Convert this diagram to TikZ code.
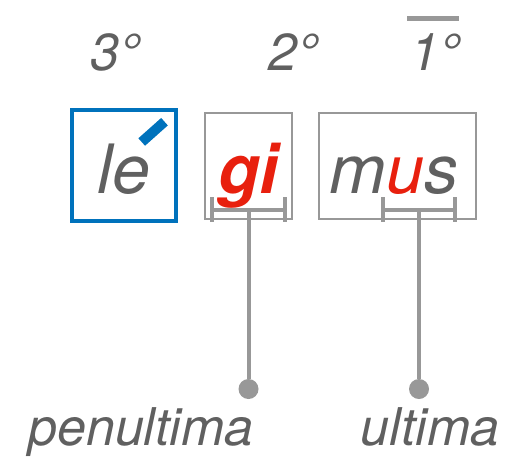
\documentclass[tikz,border=0pt]{standalone}
\usepackage{fontspec}
\setmainfont{TeX Gyre Heros}
\definecolor{grigio}{RGB}{96,96,96}
\definecolor{grigiochiaro}{RGB}{152,152,152}
\definecolor{blu}{RGB}{0,114,188}
\definecolor{rosso}{RGB}{232,32,14}
\begin{document}
\begin{tikzpicture}[x=1pt, y=-1pt,
	every node/.style={text=grigio, inner sep=0pt},
	sillaba/.style={draw=grigiochiaro, line width=2pt, minimum height=106pt},
	tonica/.style={draw=blu, line width=4pt, minimum width=104pt, minimum height=111pt},
	testo/.style={anchor=base, font=\fontsize{68}{80}\selectfont\itshape},
	numero/.style={anchor=base, font=\fontsize{52}{60}\selectfont\itshape},
	accento/.style={draw=blu, line width=10pt},
	parentesi/.style={draw=grigiochiaro, line width=4pt},
	asta/.style={draw=grigiochiaro, line width=4pt},
	punto/.style={circle, fill=grigiochiaro, minimum size=20pt}]
	\useasboundingbox (0,0) rectangle (510,456);
	% sillabe
	\node[tonica] (box le) at (124,165.5) {};
	\node[sillaba, minimum width=87pt] (box gi) at (248.5,166) {};
	\node[sillaba, minimum width=157pt] (box mus) at (397.5,166) {};
	\node[testo] (le) at (123.5,193) {le};
	\node[testo, text=rosso, font=\fontsize{68}{80}\selectfont\bfseries\itshape] (gi) at (248.5,193) {gi};
	\node[testo] (mus) at (394,193) {m{\color{rosso}u}s};
	\draw[accento] (141.7,142) -- (164.5,121.7);
	% numeri
	\node[numero] (terza) at (115,70) {3°};
	\node[numero] (seconda) at (293,70) {2°};
	\node[numero] (prima) at (435.5,70) {1°};
	\draw[grigiochiaro, line width=5pt] (407,18) -- (459,18);
	% parentesi
	\draw[parentesi] (212,197) -- (212,222) (212,210) -- (285,210) (285,197) -- (285,222);
	\draw[parentesi] (383,197) -- (383,222) (383,210) -- (455,210) (455,197) -- (455,222);
	\coordinate (gi medio) at (248.5,210);
	\coordinate (mus medio) at (419,210);
	% etichette
	\node[punto] (punto pen) at (248.5,389) {};
	\node[punto] (punto ult) at (419,389) {};
	\draw[asta] (gi medio) -- (punto pen);
	\draw[asta] (mus medio) -- (punto ult);
	\node[numero] (penultima) at (141,445) {penultima};
	\node[numero] (ultima) at (430,445) {ultima};
\end{tikzpicture}
\end{document}
